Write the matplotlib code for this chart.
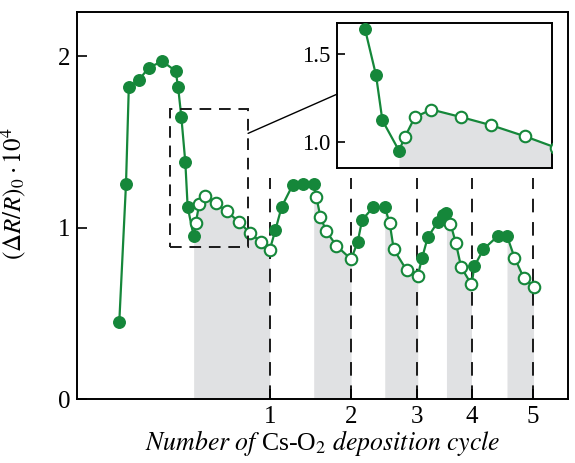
import numpy as np
import matplotlib
matplotlib.use("Agg")
import matplotlib.pyplot as plt
from matplotlib.patches import Rectangle, ConnectionPatch

plt.rcParams["font.family"] = ["Liberation Serif", "DejaVu Serif"]
plt.rcParams["mathtext.fontset"] = "stix"

# time (arb. units), signal (dR/R)_0 * 1e4, filled marker = during Cs deposition
t = [42, 48.7, 51.5, 62, 71.5, 85, 98.3, 100.8, 104, 108, 110.3, 116.3,
     118.5, 122, 128, 138.7, 149.7, 162, 173, 183.3, 192.3,
     198, 204.3, 215.3, 225.7, 236.3,
     239, 243, 248.7, 259, 273.7,
     280.3, 284.7, 295.7, 307.3,
     312.3, 316.3, 329.3, 340.3,
     344.7, 350.3, 360.5, 365.3, 369,
     373, 378.5, 383.7, 394,
     397, 406, 420.5, 429.5,
     437, 446.5, 456]
signal = [0.451, 1.255, 1.819, 1.863, 1.933, 1.969, 1.913, 1.818, 1.645, 1.380, 1.122, 0.949,
          1.029, 1.140, 1.184, 1.141, 1.094, 1.030, 0.966, 0.917, 0.869,
          0.985, 1.121, 1.248, 1.254, 1.254,
          1.176, 1.063, 0.980, 0.894, 0.815,
          0.917, 1.044, 1.118, 1.121,
          1.024, 0.873, 0.750, 0.719,
          0.824, 0.943, 1.034, 1.073, 1.087,
          1.023, 0.907, 0.768, 0.668,
          0.775, 0.874, 0.951, 0.951,
          0.825, 0.703, 0.655]
filled = [1] * 12 + [0] * 9 + [1] * 5 + [0] * 5 + [1] * 4 + [0] * 4 + \
         [1] * 5 + [0] * 4 + [1] * 4 + [0] * 3

cycle_pos = [193, 274, 340, 394.7, 455.7]
cycle_labels = ["1", "2", "3", "4", "5"]

green = "#15873a"
grey = "#e0e1e3"

t = np.array(t)
signal = np.array(signal)
filled = np.array(filled, dtype=bool)


def draw_data(ax, ms):
    # grey area under each relaxation part (last filled point -> cycle line)
    start = None
    for i in range(len(t)):
        if not filled[i] and start is None:
            start = i - 1
        if start is not None and (i == len(t) - 1 or filled[i + 1]):
            ax.fill_between(t[start:i + 1], 0, signal[start:i + 1],
                            color=grey, lw=0, zorder=0)
            start = None
    ax.plot(t, signal, color=green, lw=1.6, zorder=2)
    ax.plot(t[filled], signal[filled], "o", color=green, ms=ms, zorder=3)
    ax.plot(t[~filled], signal[~filled], "o", mfc="white", mec=green,
            mew=1.5, ms=ms, zorder=3)


fig = plt.figure(figsize=(5.75, 4.63), dpi=100)
ax = fig.add_axes([0.1344, 0.1382, 0.8526, 0.8352])
draw_data(ax, 8.3)

ax.vlines(cycle_pos, 0, 1.289, colors="#1a1a1a", linestyles=(0, (7, 5)),
          lw=1.4, zorder=1)

ax.set_xlim(0, 490)
ax.set_ylim(0, 2.255)
ax.set_yticks([0, 1, 2])
ax.set_xticks(cycle_pos)
ax.set_xticklabels(cycle_labels)
ax.tick_params(direction="in", length=7, width=1.2, labelsize=18, pad=5)
for s in ax.spines.values():
    s.set_linewidth(1.4)

ax.set_ylabel(r"$(\Delta R/R)_0\cdot 10^4$", fontsize=18, labelpad=2)
ax.yaxis.set_label_coords(-0.1, 0.53)
ax.set_xlabel(r"$\mathit{Number\ of}$ Cs-O$_2$ $\mathit{deposition\ cycle}$",
              fontsize=18.5, labelpad=0)

# dashed zoom box
ax.add_patch(Rectangle((92.3, 0.888), 78.4, 0.801, fill=False, ec="#1a1a1a",
                       ls=(0, (6, 4)), lw=1.4, zorder=4))

# inset
axin = fig.add_axes([0.5866, 0.6365, 0.3729, 0.3132])
draw_data(axin, 8.3)
axin.set_xlim(94, 171.5)
axin.set_ylim(0.848, 1.677)
axin.set_xticks([])
axin.set_yticks([1.0, 1.5])
axin.set_yticklabels(["1.0", "1.5"])
axin.tick_params(direction="in", length=6, width=1.2, labelsize=16.5, pad=5)
for s in axin.spines.values():
    s.set_linewidth(1.4)

con = ConnectionPatch(xyA=(170.7, 1.549), coordsA=ax.transData,
                      xyB=(0, 0.512), coordsB=axin.transAxes,
                      color="black", lw=1.0)
fig.add_artist(con)

plt.savefig("out.png", dpi=100)
plt.close()
